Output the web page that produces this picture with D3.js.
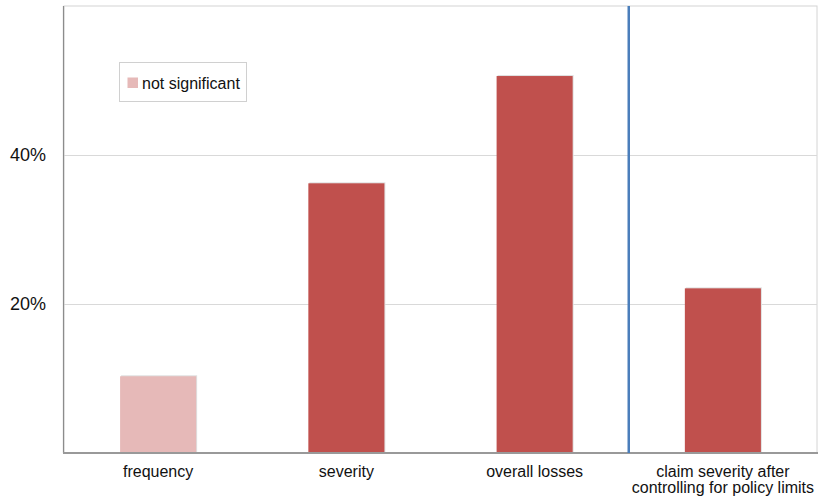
<!DOCTYPE html>
<html>
<head>
<meta charset="utf-8">
<script src="https://cdn.jsdelivr.net/npm/d3@7"></script>
<style>
  html, body { margin: 0; padding: 0; background: #fff; }
  svg { display: block; font-family: "Liberation Sans", Arial, sans-serif; }
</style>
</head>
<body>
<svg id="chart" width="822" height="497"></svg>
<script>
// ---- data ----
const categories = ["frequency", "severity", "overall losses", "claim severity after|controlling for policy limits"];
const values = [10.3, 36.2, 50.6, 22.1];
const significant = [false, true, true, true];
const yTicks = [20, 40];
const legendLabel = "not significant";

// ---- layout ----
const W = 822, H = 497;
const m = { left: 64, right: 5, top: 6, bottom: 44 };
const pw = W - m.left - m.right, ph = H - m.top - m.bottom;

const svg = d3.select("#chart");
const g = svg.append("g").attr("transform", `translate(${m.left},${m.top})`);

const x = d3.scaleBand().domain(categories).range([0, pw]).paddingInner(0.596).paddingOuter(0.298);
const y = d3.scaleLinear().domain([0, 60]).range([ph, 0]);

// frame (top/right light border)
g.append("rect").attr("x", 0).attr("y", 0).attr("width", pw).attr("height", ph)
  .attr("fill", "none").attr("stroke", "#d4d4d4").attr("stroke-width", 1);

// gridlines
g.selectAll(".grid").data(yTicks).enter().append("line")
  .attr("x1", 0).attr("x2", pw)
  .attr("y1", d => Math.round(y(d)) + 0.5).attr("y2", d => Math.round(y(d)) + 0.5)
  .attr("stroke", "#d9d9d9").attr("stroke-width", 1);

// y tick labels
g.selectAll(".ytick").data(yTicks).enter().append("text")
  .attr("x", -18).attr("y", d => y(d))
  .attr("dy", "0.36em")
  .attr("text-anchor", "end")
  .attr("font-size", 18).attr("fill", "#111")
  .text(d => d + "%");

// bar shadows
g.selectAll(".shadow").data(values).enter().append("rect")
  .attr("x", (d, i) => x(categories[i]) + 1)
  .attr("y", d => y(d) - 1)
  .attr("width", x.bandwidth())
  .attr("height", d => ph - y(d) + 1)
  .attr("fill", "#e0e0e0");

// bars
g.selectAll(".bar").data(values).enter().append("rect")
  .attr("x", (d, i) => x(categories[i]))
  .attr("y", d => y(d))
  .attr("width", x.bandwidth())
  .attr("height", d => ph - y(d))
  .attr("fill", (d, i) => significant[i] ? "#C0504D" : "#E6B9B8");

// left axis line
g.append("line").attr("x1", -0.5).attr("x2", -0.5).attr("y1", 0).attr("y2", ph)
  .attr("stroke", "#8c8c8c").attr("stroke-width", 1.2);

// bottom axis line
g.append("line").attr("x1", -1).attr("x2", pw + 1).attr("y1", ph).attr("y2", ph)
  .attr("stroke", "#999").attr("stroke-width", 2);

// separator blue line
const sepX = x(categories[3]) - x.step() * x.paddingInner() / 2;
g.append("line").attr("x1", sepX).attr("x2", sepX).attr("y1", 0).attr("y2", ph)
  .attr("stroke", "#4A7EBB").attr("stroke-width", 2.5);

// category labels
const cl = g.selectAll(".cat").data(categories).enter().append("text")
  .attr("text-anchor", "middle")
  .attr("font-size", 16).attr("fill", "#111")
  .attr("transform", d => `translate(${x(d) + x.bandwidth() / 2},${ph + 24})`);
cl.each(function(d) {
  const lines = d.split("|");
  d3.select(this).selectAll("tspan").data(lines).enter().append("tspan")
    .attr("x", 0).attr("dy", (l, i) => i === 0 ? 0 : 16)
    .text(l => l);
});

// legend
const lg = svg.append("g").attr("transform", "translate(119.5,62.5)");
lg.append("rect").attr("width", 127).attr("height", 39)
  .attr("fill", "#fff").attr("stroke", "#d0d0d0").attr("stroke-width", 1);
lg.append("rect").attr("x", 8).attr("y", 15).attr("width", 10.5).attr("height", 10.5)
  .attr("fill", "#E6B9B8");
lg.append("text").attr("x", 22.5).attr("y", 20.5).attr("dy", "0.36em")
  .attr("font-size", 16).attr("fill", "#111").text(legendLabel);
</script>
</body>
</html>
